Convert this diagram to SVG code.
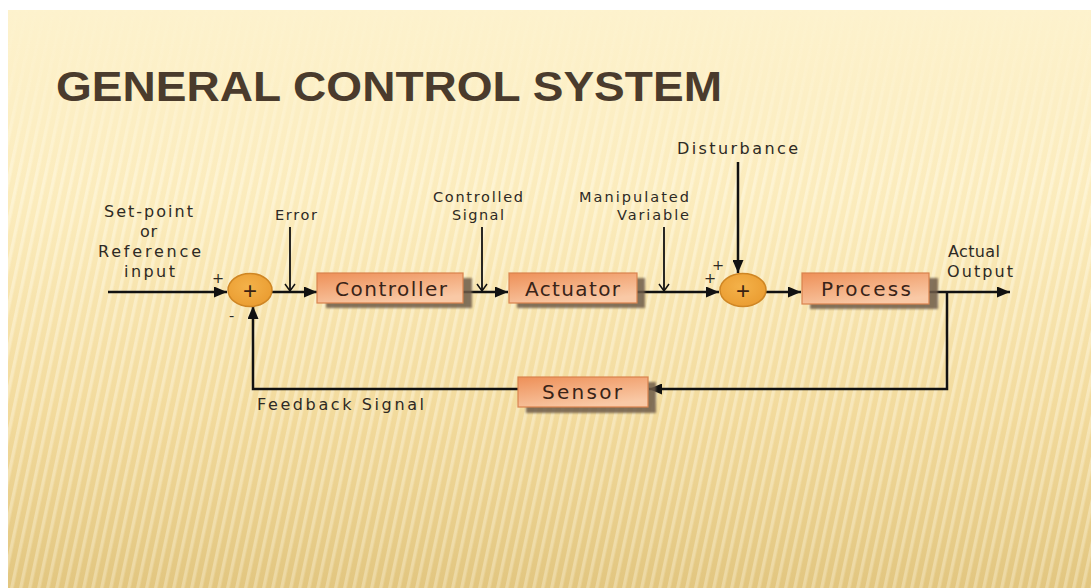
<svg xmlns="http://www.w3.org/2000/svg" width="1091" height="588" viewBox="0 0 1091 588">
  <defs>
    <linearGradient id="bg" x1="0" y1="0" x2="0" y2="1">
      <stop offset="0" stop-color="#fdf2cd"/>
      <stop offset="0.35" stop-color="#fbebbb"/>
      <stop offset="0.7" stop-color="#f2da9c"/>
      <stop offset="1" stop-color="#e2c680"/>
    </linearGradient>
    <pattern id="stripes" width="9" height="600" patternUnits="userSpaceOnUse" patternTransform="skewX(-12)">
      <rect x="0" y="0" width="3.5" height="600" fill="#fffbe8"/>
    </pattern>
    <linearGradient id="fadeStripes" x1="0" y1="0" x2="0" y2="1">
      <stop offset="0" stop-color="#fff" stop-opacity="0"/>
      <stop offset="0.12" stop-color="#fff" stop-opacity="0.2"/>
      <stop offset="0.3" stop-color="#fff" stop-opacity="0.8"/>
      <stop offset="1" stop-color="#fff" stop-opacity="0.55"/>
    </linearGradient>
    <mask id="stripeMask" maskUnits="userSpaceOnUse" x="0" y="0" width="1091" height="588">
      <rect x="0" y="0" width="1091" height="588" fill="url(#fadeStripes)"/>
    </mask>
    <linearGradient id="titleLine" x1="0" y1="0" x2="1" y2="0">
      <stop offset="0" stop-color="#e8a53a"/>
      <stop offset="1" stop-color="#f0c060"/>
    </linearGradient>
    <linearGradient id="boxFill" x1="0" y1="0" x2="0.5" y2="1">
      <stop offset="0" stop-color="#ee9058"/>
      <stop offset="1" stop-color="#f9c9a6"/>
    </linearGradient>
    <radialGradient id="sumFill" cx="0.45" cy="0.4" r="0.7">
      <stop offset="0" stop-color="#f4b24a"/>
      <stop offset="1" stop-color="#e99a2e"/>
    </radialGradient>
    <filter id="soft" x="-10%" y="-20%" width="130%" height="160%">
      <feGaussianBlur stdDeviation="1.2"/>
    </filter>
    <marker id="arrow" markerUnits="userSpaceOnUse" markerWidth="13" markerHeight="11" refX="13" refY="5.5" orient="auto">
      <path d="M0,0 L13,5.5 L0,11 z" fill="#111"/>
    </marker>
  </defs>
  <style>
    .lbl { font-family: "DejaVu Sans", Verdana, sans-serif; font-size: 16px; fill: #2e2a24; }
    .sm { font-family: "DejaVu Sans", Verdana, sans-serif; font-size: 14.5px; fill: #2e2a24; }
    .boxlbl { font-family: "DejaVu Sans", Verdana, sans-serif; font-size: 20px; fill: #3a2418; }
    .box { fill: url(#boxFill); stroke: #d9834e; stroke-width: 1.2; }
    .shadow { fill: #6e5c4a; opacity: 0.85; filter: url(#soft); }
    .sum { fill: url(#sumFill); stroke: #cf8624; stroke-width: 1.5; }
    .sumplus { font-family: "Liberation Sans", Arial, sans-serif; font-size: 24px; fill: #3a2212; text-anchor: middle; }
    .wire { fill: none; stroke: #111; stroke-width: 2.5; }
    .thin { fill: none; stroke: #111; stroke-width: 1.8; }
    .chev { fill: none; stroke: #111; stroke-width: 1.5; }
  </style>

  <!-- background -->
  <rect x="0" y="0" width="1091" height="588" fill="#ffffff"/>
  <rect x="8" y="10" width="1083" height="578" fill="url(#bg)"/>
  <rect x="8" y="10" width="1083" height="578" fill="url(#stripes)" mask="url(#stripeMask)" opacity="0.6"/>

  <!-- title -->
  <g id="title">
    <line x1="722" y1="102" x2="1091" y2="102" stroke="url(#titleLine)" stroke-width="2"/>
    <text x="56" y="101" font-family="'Liberation Sans',Arial,sans-serif" font-weight="bold" font-size="43" fill="#4a3b2c" textLength="666" lengthAdjust="spacingAndGlyphs">GENERAL CONTROL SYSTEM</text>
  </g>

  <!-- connectors -->
  <g id="connectors">
    <line class="wire" x1="108" y1="292" x2="227" y2="292" marker-end="url(#arrow)"/>
    <line class="wire" x1="272" y1="292" x2="317" y2="292" marker-end="url(#arrow)"/>
    <line class="wire" x1="463" y1="292" x2="508" y2="292" marker-end="url(#arrow)"/>
    <line class="wire" x1="637" y1="292" x2="719" y2="292" marker-end="url(#arrow)"/>
    <line class="wire" x1="738" y1="162" x2="738" y2="273" stroke-width="3" marker-end="url(#arrow)"/>
    <line class="wire" x1="766" y1="292" x2="801" y2="292" marker-end="url(#arrow)"/>
    <line class="wire" x1="929" y1="292" x2="1010" y2="292" marker-end="url(#arrow)"/>
    <polyline class="wire" points="947,292 947,389 649,389" marker-end="url(#arrow)"/>
    <polyline class="wire" points="518,389 253,389 253,306" marker-end="url(#arrow)"/>
    <line class="thin" x1="290" y1="227" x2="290" y2="291"/>
    <path class="chev" d="M285,284 L290,291 L295,284"/>
    <line class="thin" x1="482" y1="227" x2="482" y2="291"/>
    <path class="chev" d="M477,284 L482,291 L487,284"/>
    <line class="thin" x1="664" y1="227" x2="664" y2="291"/>
    <path class="chev" d="M659,284 L664,291 L669,284"/>
  </g>

  <!-- summing junctions -->
  <g id="sum1">
    <ellipse class="sum" cx="250" cy="290" rx="22" ry="16.5"/>
    <text class="sumplus" x="250" y="299">+</text>
    <text class="sm" x="212" y="283">+</text>
    <text class="sm" x="229" y="321">-</text>
  </g>
  <g id="sum2">
    <ellipse class="sum" cx="743" cy="290" rx="23" ry="16.5"/>
    <text class="sumplus" x="743" y="299">+</text>
    <text class="sm" x="712" y="270">+</text>
    <text class="sm" x="704" y="283">+</text>
  </g>

  <!-- blocks -->
  <g id="controller">
    <rect class="shadow" x="326" y="278" width="146" height="30"/>
    <rect class="box" x="317" y="273" width="146" height="30"/>
    <text class="boxlbl" x="335" y="296" textLength="112" lengthAdjust="spacing">Controller</text>
  </g>
  <g id="actuator">
    <rect class="shadow" x="517" y="278" width="128" height="30"/>
    <rect class="box" x="509" y="273" width="128" height="30"/>
    <text class="boxlbl" x="525" y="296" textLength="95" lengthAdjust="spacing">Actuator</text>
  </g>
  <g id="process">
    <rect class="shadow" x="810" y="278" width="128" height="31"/>
    <rect class="box" x="802" y="273" width="127" height="31"/>
    <text class="boxlbl" x="821" y="296" textLength="90" lengthAdjust="spacing">Process</text>
  </g>
  <g id="sensor">
    <rect class="shadow" x="526" y="382" width="130" height="31"/>
    <rect class="box" x="518" y="377" width="130" height="30"/>
    <text class="boxlbl" x="542" y="399" textLength="80" lengthAdjust="spacing">Sensor</text>
  </g>

  <!-- labels -->
  <g id="setpoint-label">
    <text class="lbl" x="104" y="217" textLength="89" lengthAdjust="spacing">Set-point</text>
    <text class="lbl" x="140" y="237" textLength="17" lengthAdjust="spacing">or</text>
    <text class="lbl" x="98" y="257" textLength="103" lengthAdjust="spacing">Reference</text>
    <text class="lbl" x="124" y="277" textLength="51" lengthAdjust="spacing">input</text>
  </g>
  <g id="error-label">
    <text class="sm" x="275" y="220" textLength="42" lengthAdjust="spacing">Error</text>
  </g>
  <g id="controlled-label">
    <text class="sm" x="433" y="202" textLength="90" lengthAdjust="spacing">Controlled</text>
    <text class="sm" x="452" y="220" textLength="52" lengthAdjust="spacing">Signal</text>
  </g>
  <g id="manipulated-label">
    <text class="sm" x="579" y="202" textLength="110" lengthAdjust="spacing">Manipulated</text>
    <text class="sm" x="617" y="220" textLength="72" lengthAdjust="spacing">Variable</text>
  </g>
  <g id="disturbance-label">
    <text class="lbl" x="677" y="154" textLength="121" lengthAdjust="spacing">Disturbance</text>
  </g>
  <g id="output-label">
    <text class="lbl" x="948" y="257" textLength="52" lengthAdjust="spacing">Actual</text>
    <text class="lbl" x="947" y="277" textLength="66" lengthAdjust="spacing">Output</text>
  </g>
  <g id="feedback-label">
    <text class="lbl" x="257" y="410" textLength="167" lengthAdjust="spacing">Feedback Signal</text>
  </g>
</svg>
